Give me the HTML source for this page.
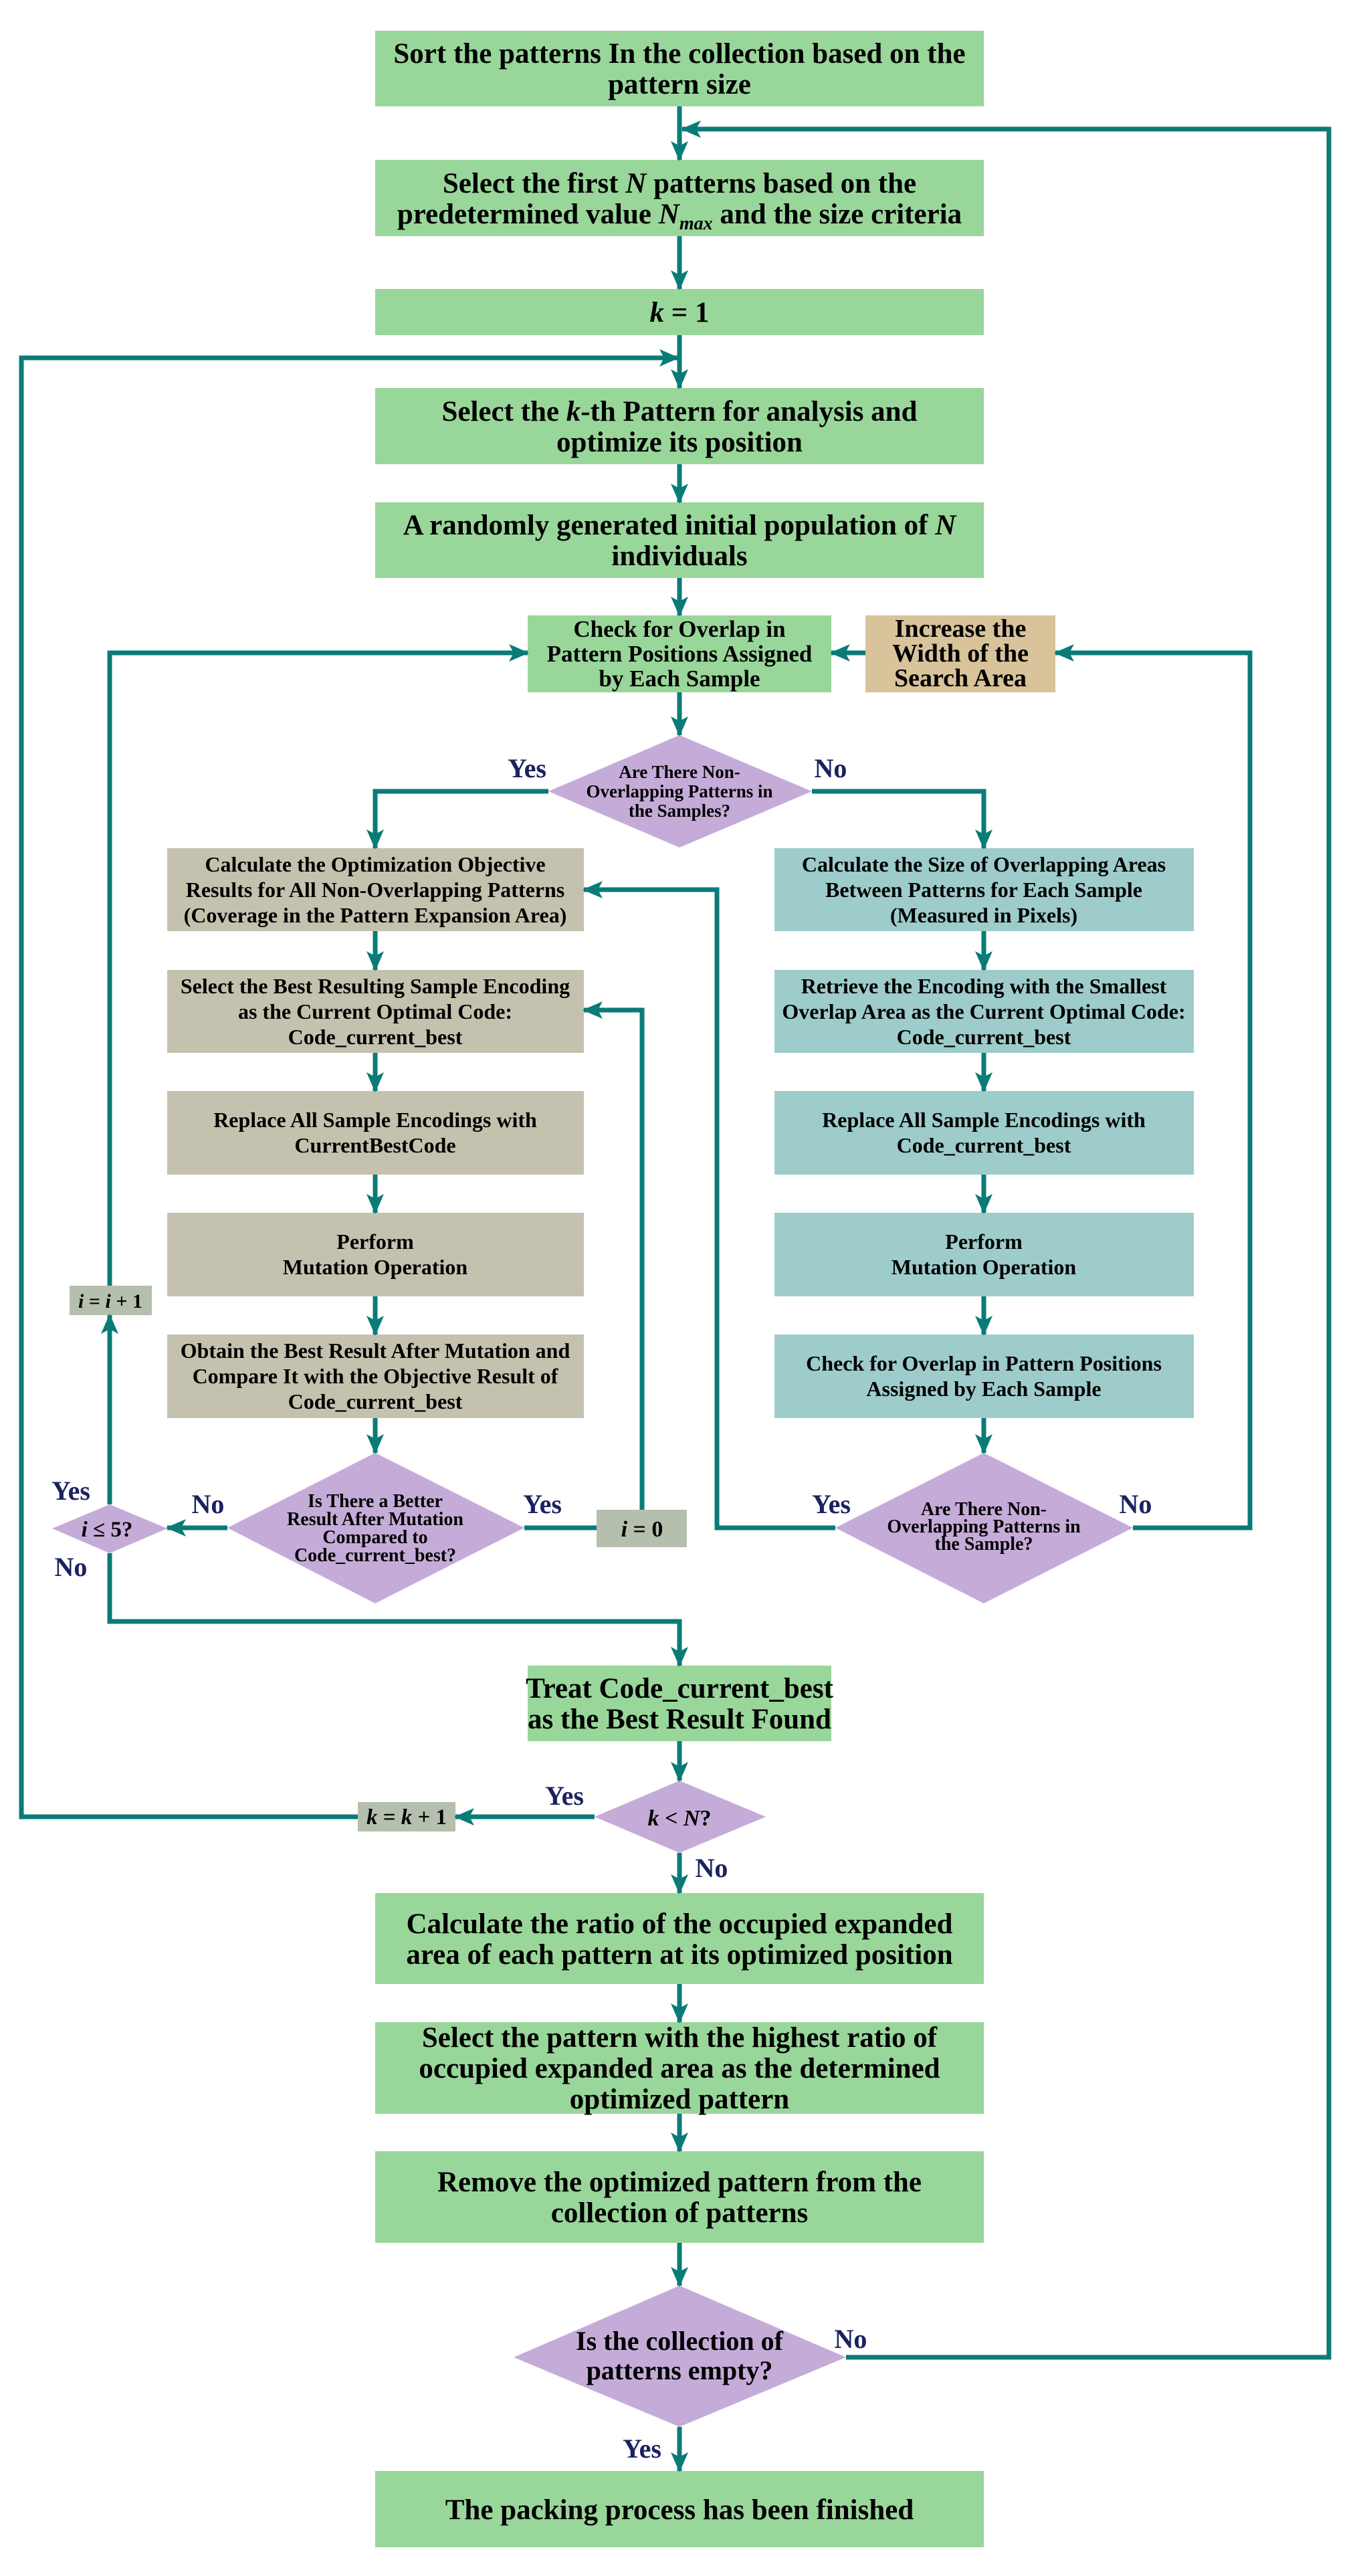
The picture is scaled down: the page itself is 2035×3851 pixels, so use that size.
<!DOCTYPE html>
<html><head><meta charset="utf-8"><style>
html,body{margin:0;padding:0;background:#fff;}
svg{display:block;}
text{font-family:"Liberation Serif",serif;font-weight:bold;fill:#000;text-anchor:middle;}
.lb{fill:#1b2260;font-size:40px;}
</style></head><body>
<svg width="2035" height="3851" viewBox="0 0 2035 3851" xmlns="http://www.w3.org/2000/svg">
<defs>
<marker id="a" markerUnits="userSpaceOnUse" markerWidth="30" markerHeight="30" viewBox="0 0 30 30" refX="28" refY="15" orient="auto">
<path d="M0,2 L30,15 L0,28 L7,15 Z" fill="#0a7b76"/>
</marker>
</defs>
<rect width="2035" height="3851" fill="#fff"/>
<g fill="#99d69a">
<rect x="561" y="46" width="910" height="113"/>
<rect x="561" y="239" width="910" height="114"/>
<rect x="561" y="432" width="910" height="69"/>
<rect x="561" y="580" width="910" height="114"/>
<rect x="561" y="751" width="910" height="113"/>
<rect x="789" y="920" width="454" height="115"/>
<rect x="789" y="2490" width="454" height="113"/>
<rect x="561" y="2830" width="910" height="136"/>
<rect x="561" y="3023" width="910" height="137"/>
<rect x="561" y="3216" width="910" height="137"/>
<rect x="561" y="3694" width="910" height="114"/>
</g>
<rect x="1294" y="920" width="284" height="115" fill="#d8c39b"/>
<g fill="#c4c2ae">
<rect x="250" y="1268" width="623" height="124"/>
<rect x="250" y="1450" width="623" height="124"/>
<rect x="250" y="1631" width="623" height="125"/>
<rect x="250" y="1813" width="623" height="125"/>
<rect x="250" y="1995" width="623" height="125"/>
</g>
<g fill="#9dcccb">
<rect x="1158" y="1268" width="627" height="124"/>
<rect x="1158" y="1450" width="627" height="124"/>
<rect x="1158" y="1631" width="627" height="125"/>
<rect x="1158" y="1813" width="627" height="125"/>
<rect x="1158" y="1995" width="627" height="125"/>
</g>
<g fill="#b5bfae">
<rect x="104" y="1922" width="123" height="44"/>
<rect x="892" y="2257" width="135" height="56"/>
<rect x="535" y="2694" width="146" height="44"/>
</g>
<g fill="#c5acd8">
<polygon points="1016,1099 1214,1183 1016,1267 820,1183"/>
<polygon points="561,2172 784,2284 561,2397 340,2284"/>
<polygon points="1471,2172 1694,2284 1471,2397 1249,2284"/>
<polygon points="164,2249 250,2285 164,2322 78,2285"/>
<polygon points="1016,2662 1145,2716 1016,2770 889,2716"/>
<polygon points="1016,3417 1265,3524 1016,3628 768,3524"/>
</g>
<g stroke="#0a7b76" stroke-width="7" fill="none">
<path d="M1016,159 V239" marker-end="url(#a)"/>
<path d="M1265,3524 H1987 V193 H1020" marker-end="url(#a)"/>
<path d="M1016,353 V432" marker-end="url(#a)"/>
<path d="M1016,501 V580" marker-end="url(#a)"/>
<path d="M535,2716 H32 V535 H1014" marker-end="url(#a)"/>
<path d="M1016,694 V751" marker-end="url(#a)"/>
<path d="M1016,864 V920" marker-end="url(#a)"/>
<path d="M1016,1035 V1099" marker-end="url(#a)"/>
<path d="M1294,976 H1243" marker-end="url(#a)"/>
<path d="M1694,2284 H1869 V976 H1578" marker-end="url(#a)"/>
<path d="M164,1922 V976 H789" marker-end="url(#a)"/>
<path d="M164,2249 V1966" marker-end="url(#a)"/>
<path d="M820,1183 H561 V1268" marker-end="url(#a)"/>
<path d="M1214,1183 H1471 V1268" marker-end="url(#a)"/>
<path d="M561,1392 V1450" marker-end="url(#a)"/>
<path d="M561,1574 V1631" marker-end="url(#a)"/>
<path d="M561,1756 V1813" marker-end="url(#a)"/>
<path d="M561,1938 V1995" marker-end="url(#a)"/>
<path d="M561,2120 V2172" marker-end="url(#a)"/>
<path d="M1471,1392 V1450" marker-end="url(#a)"/>
<path d="M1471,1574 V1631" marker-end="url(#a)"/>
<path d="M1471,1756 V1813" marker-end="url(#a)"/>
<path d="M1471,1938 V1995" marker-end="url(#a)"/>
<path d="M1471,2120 V2172" marker-end="url(#a)"/>
<path d="M1249,2284 H1072 V1330 H873" marker-end="url(#a)"/>
<path d="M784,2284 H892"/>
<path d="M960,2257 V1510 H873" marker-end="url(#a)"/>
<path d="M340,2284 H250" marker-end="url(#a)"/>
<path d="M164,2322 V2424 H1016 V2490" marker-end="url(#a)"/>
<path d="M1016,2603 V2662" marker-end="url(#a)"/>
<path d="M889,2716 H681" marker-end="url(#a)"/>
<path d="M1016,2770 V2830" marker-end="url(#a)"/>
<path d="M1016,2966 V3023" marker-end="url(#a)"/>
<path d="M1016,3160 V3216" marker-end="url(#a)"/>
<path d="M1016,3353 V3417" marker-end="url(#a)"/>
<path d="M1016,3628 V3694" marker-end="url(#a)"/>
</g>
<g font-size="43">
<text x="1016" y="94">Sort the patterns In the collection based on the</text>
<text x="1016" y="140">pattern size</text>
<text x="1016" y="288">Select the first <tspan font-style="italic">N</tspan> patterns based on the</text>
<text x="1016" y="334">predetermined value <tspan font-style="italic">N</tspan><tspan font-style="italic" font-size="28" dy="9">max</tspan><tspan dy="-9"> and the size criteria</tspan></text>
<text x="1016" y="481"><tspan font-style="italic">k</tspan> = 1</text>
<text x="1016" y="629">Select the <tspan font-style="italic">k</tspan>-th Pattern for analysis and</text>
<text x="1016" y="675">optimize its position</text>
<text x="1016" y="799">A randomly generated initial population of <tspan font-style="italic">N</tspan></text>
<text x="1016" y="845">individuals</text>
<text x="1016" y="2538">Treat Code_current_best</text>
<text x="1016" y="2584">as the Best Result Found</text>
<text x="1016" y="2890">Calculate the ratio of the occupied expanded</text>
<text x="1016" y="2936">area of each pattern at its optimized position</text>
<text x="1016" y="3060">Select the pattern with the highest ratio of</text>
<text x="1016" y="3106">occupied expanded area as the determined</text>
<text x="1016" y="3152">optimized pattern</text>
<text x="1016" y="3276">Remove the optimized pattern from the</text>
<text x="1016" y="3322">collection of patterns</text>
<text x="1016" y="3766">The packing process has been finished</text>
</g>
<g font-size="35">
<text x="1016" y="952">Check for Overlap in</text>
<text x="1016" y="989">Pattern Positions Assigned</text>
<text x="1016" y="1026">by Each Sample</text>
</g>
<g font-size="38">
<text x="1436" y="952">Increase the</text>
<text x="1436" y="989">Width of the</text>
<text x="1436" y="1026">Search Area</text>
</g>
<g font-size="27">
<text x="1016" y="1163">Are There Non-</text>
<text x="1016" y="1192">Overlapping Patterns in</text>
<text x="1016" y="1221">the Samples?</text>
</g>
<g font-size="32">
<text x="561" y="1303">Calculate the Optimization Objective</text>
<text x="561" y="1341">Results for All Non-Overlapping Patterns</text>
<text x="561" y="1379">(Coverage in the Pattern Expansion Area)</text>
<text x="561" y="1485">Select the Best Resulting Sample Encoding</text>
<text x="561" y="1523">as the Current Optimal Code:</text>
<text x="561" y="1561">Code_current_best</text>
<text x="561" y="1685">Replace All Sample Encodings with</text>
<text x="561" y="1723">CurrentBestCode</text>
<text x="561" y="1867">Perform</text>
<text x="561" y="1905">Mutation Operation</text>
<text x="561" y="2030">Obtain the Best Result After Mutation and</text>
<text x="561" y="2068">Compare It with the Objective Result of</text>
<text x="561" y="2106">Code_current_best</text>
<text x="1471" y="1303">Calculate the Size of Overlapping Areas</text>
<text x="1471" y="1341">Between Patterns for Each Sample</text>
<text x="1471" y="1379">(Measured in Pixels)</text>
<text x="1471" y="1485">Retrieve the Encoding with the Smallest</text>
<text x="1471" y="1523">Overlap Area as the Current Optimal Code:</text>
<text x="1471" y="1561">Code_current_best</text>
<text x="1471" y="1685">Replace All Sample Encodings with</text>
<text x="1471" y="1723">Code_current_best</text>
<text x="1471" y="1867">Perform</text>
<text x="1471" y="1905">Mutation Operation</text>
<text x="1471" y="2049">Check for Overlap in Pattern Positions</text>
<text x="1471" y="2087">Assigned by Each Sample</text>
</g>
<g font-size="28">
<text x="561" y="2253">Is There a Better</text>
<text x="561" y="2280">Result After Mutation</text>
<text x="561" y="2307">Compared to</text>
<text x="561" y="2334">Code_current_best?</text>
<text x="1471" y="2265">Are There Non-</text>
<text x="1471" y="2291">Overlapping Patterns in</text>
<text x="1471" y="2317">the Sample?</text>
</g>
<text x="160" y="2297" font-size="33"><tspan font-style="italic">i</tspan> ≤ 5?</text>
<text x="960" y="2297" font-size="34"><tspan font-style="italic">i</tspan> = 0</text>
<text x="165" y="1955" font-size="30"><tspan font-style="italic">i</tspan> = <tspan font-style="italic">i</tspan> + 1</text>
<text x="608" y="2727" font-size="33"><tspan font-style="italic">k</tspan> = <tspan font-style="italic">k</tspan> + 1</text>
<text x="1016" y="2729" font-size="34"><tspan font-style="italic">k</tspan> &lt; <tspan font-style="italic">N</tspan>?</text>
<g font-size="40">
<text x="1016" y="3513">Is the collection of</text>
<text x="1016" y="3557">patterns empty?</text>
</g>
<text class="lb" x="788" y="1162">Yes</text>
<text class="lb" x="1242" y="1162">No</text>
<text class="lb" x="106" y="2242">Yes</text>
<text class="lb" x="311" y="2262">No</text>
<text class="lb" x="106" y="2356">No</text>
<text class="lb" x="811" y="2262">Yes</text>
<text class="lb" x="1243" y="2262">Yes</text>
<text class="lb" x="1698" y="2262">No</text>
<text class="lb" x="844" y="2698">Yes</text>
<text class="lb" x="1064" y="2806">No</text>
<text class="lb" x="1272" y="3510">No</text>
<text class="lb" x="960" y="3674">Yes</text>
</svg>
</body></html>
